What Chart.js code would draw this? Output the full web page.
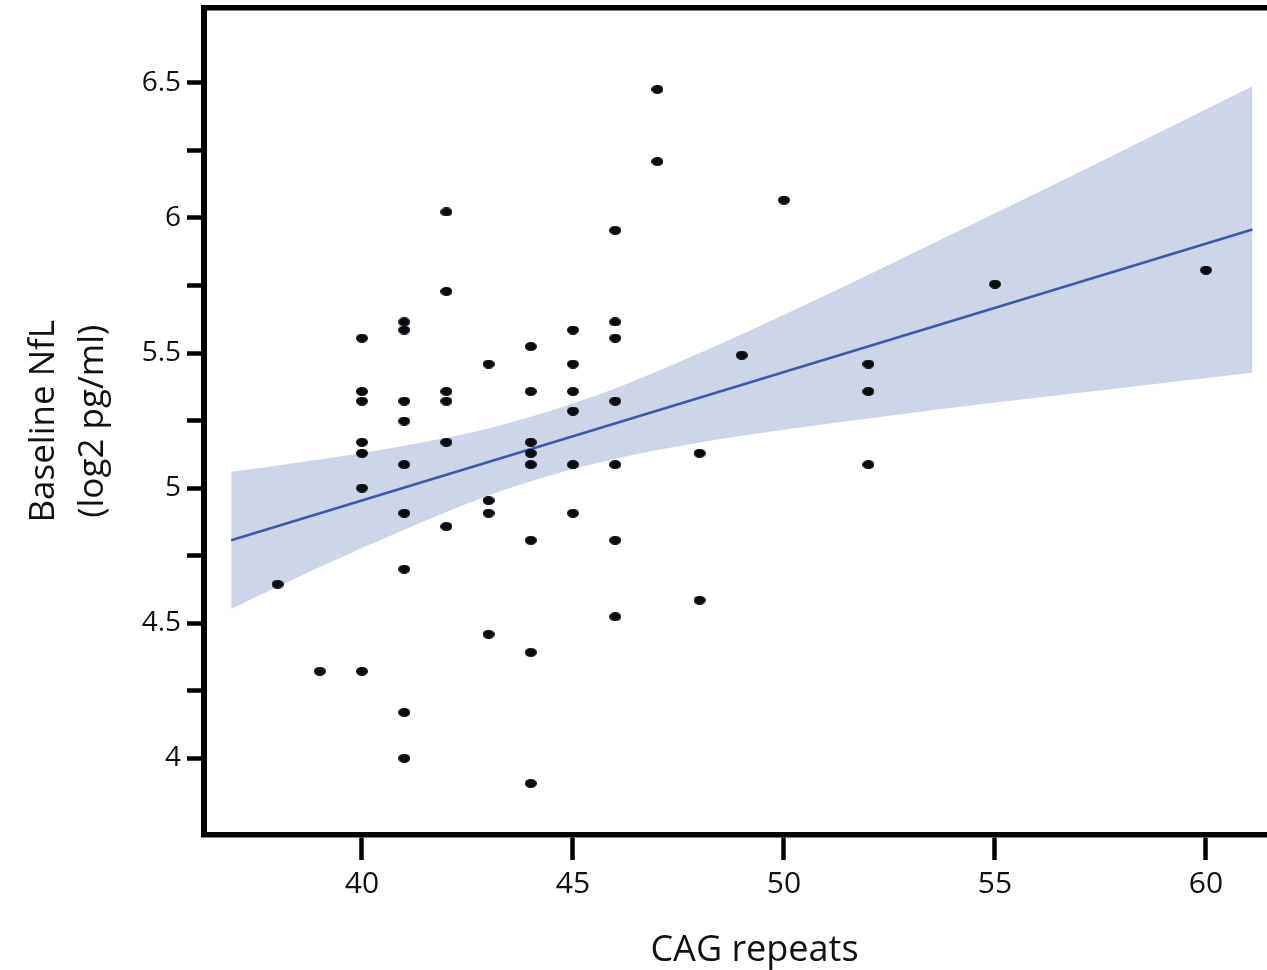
<!DOCTYPE html>
<html>
<head>
<meta charset="utf-8">
<title>Baseline NfL vs CAG repeats</title>
<script src="https://cdn.jsdelivr.net/npm/chart.js@4.4.1/dist/chart.umd.min.js"></script>
<style>
  html,body{margin:0;padding:0;background:#fff;overflow:hidden;}
  /* el lienzo es algo más ancho que la ventana: la figura original está recortada a la derecha */
  #wrap{position:relative;width:1305px;height:970px;}
</style>
</head>
<body>
<div id="wrap"><canvas id="nfl"></canvas></div>
<script>
// ---------- Datos ----------
const cagRepeats = [
  38,
  39,
  40, 40, 40, 40, 40, 40, 40,
  41, 41, 41, 41, 41, 41, 41, 41, 41,
  42, 42, 42, 42, 42, 42,
  43, 43, 43, 43,
  44, 44, 44, 44, 44, 44, 44, 44,
  45, 45, 45, 45, 45, 45,
  46, 46, 46, 46, 46, 46, 46,
  47, 47,
  48, 48,
  49,
  50,
  52, 52, 52,
  55,
  60
];
const baselineNfl = [
  4.644,
  4.322,
  5.555, 5.358, 5.322, 5.170, 5.129, 5.000, 4.322,
  5.615, 5.585, 5.322, 5.248, 5.087, 4.907, 4.700, 4.170, 4.000,
  6.022, 5.728, 5.358, 5.322, 5.170, 4.858,
  5.459, 4.954, 4.907, 4.459,
  5.524, 5.358, 5.170, 5.129, 5.087, 4.807, 4.392, 3.907,
  5.585, 5.459, 5.358, 5.285, 5.087, 4.907,
  5.954, 5.615, 5.555, 5.322, 5.087, 4.807, 4.524,
  6.476, 6.209,
  5.129, 4.585,
  5.492,
  6.066,
  5.459, 5.358, 5.087,
  5.755,
  5.807
];

// recta ajustada y banda de confianza
const fitCag    = [36.9, 61.1];
const fitNfl    = [4.807, 5.957];
const bandCag   = [36.9, 38, 40, 42, 43, 44.2, 45, 46, 48, 50, 52, 55, 58, 61.1];
const bandUpper = [5.061, 5.084, 5.130, 5.186, 5.221, 5.273, 5.313, 5.369, 5.500, 5.642, 5.790, 6.017, 6.247, 6.487];
const bandLower = [4.553, 4.635, 4.778, 4.912, 4.973, 5.035, 5.071, 5.109, 5.169, 5.216, 5.258, 5.317, 5.371, 5.427];

// ejes
const xTicks  = [40, 45, 50, 55, 60];
const xLabels = ['40', '45', '50', '55', '60'];
const yTicks  = [4, 4.25, 4.5, 4.75, 5, 5.25, 5.5, 5.75, 6, 6.25, 6.5];
const yLabels = ['4', '', '4.5', '', '5', '', '5.5', '', '6', '', '6.5'];
const X_MIN = 36.256, X_MAX = 62.346;
const Y_MIN = 3.718,  Y_MAX = 6.777;

const FONT = "'Open Sans', 'Noto Sans', sans-serif";
const INK  = '#111111';

// ---------- Punto elíptico (la figura está estirada en horizontal) ----------
function makeDot(w, h, color){
  const c = document.createElement('canvas');
  c.width = w; c.height = h;
  const g = c.getContext('2d');
  g.fillStyle = color;
  g.beginPath();
  g.ellipse(w/2, h/2, w/2, h/2, 0, 0, Math.PI*2);
  g.fill();
  return c;
}

const zip = (xs, ys) => xs.map((x,i) => ({x, y: ys[i]}));

// ---------- Gráfico ----------
const ctx = document.getElementById('nfl');
new Chart(ctx, {
  type: 'line',
  data: {
    datasets: [
      {label:'Participants', data: zip(cagRepeats, baselineNfl), xAxisID:'x', yAxisID:'y',
       showLine:false, pointStyle: makeDot(12, 9, '#0b0b12'), pointRadius:5, pointHoverRadius:5, order:0},
      {label:'Linear fit', data: zip(fitCag, fitNfl), xAxisID:'x', yAxisID:'y',
       borderColor:'#3b59aa', borderWidth:2.5, pointRadius:0, fill:false, order:1},
      {label:'CI upper', data: zip(bandCag, bandUpper), xAxisID:'x', yAxisID:'y',
       borderColor:'rgba(0,0,0,0)', borderWidth:0, pointRadius:0, fill:false,
       cubicInterpolationMode:'monotone', order:2},
      {label:'CI lower', data: zip(bandCag, bandLower), xAxisID:'x', yAxisID:'y',
       borderColor:'rgba(0,0,0,0)', borderWidth:0, pointRadius:0, fill:'-1',
       backgroundColor:'#cdd6e8', cubicInterpolationMode:'monotone', order:3}
    ]
  },
  options: {
    responsive:true, maintainAspectRatio:false, animation:false,
    layout:{autoPadding:false, padding:{top:8, left:20, right:0, bottom:1}},
    plugins:{legend:{display:false}, tooltip:{enabled:false}},
    scales:{
      x:{
        type:'linear', position:'bottom', min:X_MIN, max:X_MAX,
        afterBuildTicks: s => { s.ticks = xTicks.map(v => ({value:v})); },
        afterFit: s => { s.height = 134.5; s.paddingLeft = 0; s.paddingRight = 0; },
        grid:{display:true, drawOnChartArea:false, drawTicks:true, tickLength:25.5, tickWidth:4.5, tickColor:'#000'},
        border:{display:true, width:5.5, color:'#000'},
        ticks:{color:INK, font:{family:FONT, size:30}, padding:6, maxRotation:0, autoSkip:false,
               callback:(v, i) => xLabels[i]},
        title:{display:true, text:'CAG repeats', color:INK, font:{family:FONT, size:36, lineHeight:1}, padding:0}
      },
      xTop:{
        type:'linear', axis:'x', position:'top', min:X_MIN, max:X_MAX,
        grid:{display:false, drawTicks:false},
        ticks:{display:false},
        border:{display:true, width:5.5, color:'#000'}
      },
      y:{
        type:'linear', position:'left', min:Y_MIN, max:Y_MAX,
        afterBuildTicks: s => { s.ticks = yTicks.map(v => ({value:v})); },
        afterFit: s => { s.width = 184; s.paddingTop = 0; s.paddingBottom = 0; },
        grid:{display:true, drawOnChartArea:false, drawTicks:true, tickLength:17, tickWidth:4.5, tickColor:'#000'},
        border:{display:true, width:6, color:'#000'},
        ticks:{color:INK, font:{family:FONT, size:28}, padding:6, autoSkip:false,
               callback:(v, i) => yLabels[i]},
        title:{display:true, text:['Baseline NfL', '(log2 pg/ml)'], color:INK,
               font:{family:FONT, size:35, lineHeight:1.4}, padding:0}
      }
    }
  }
});
</script>
</body>
</html>
